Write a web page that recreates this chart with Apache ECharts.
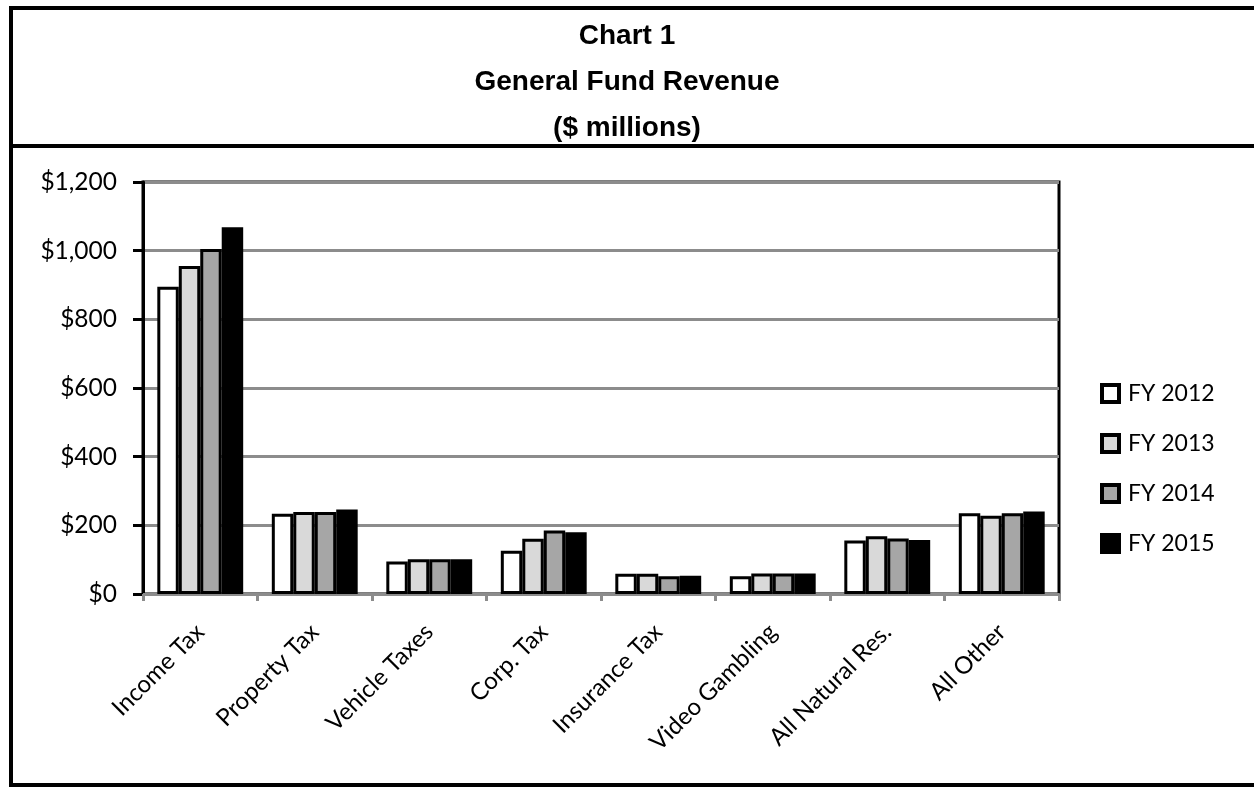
<!DOCTYPE html>
<html>
<head>
<meta charset="utf-8">
<script src="https://cdn.jsdelivr.net/npm/echarts@6/dist/echarts.min.js"></script>
<style>html,body{margin:0;padding:0;background:#fff;}#chart{width:1254px;height:787px;}</style>
</head>
<body>
<div id="chart"></div>
<script>
const categories = ['Income Tax','Property Tax','Vehicle Taxes','Corp. Tax','Insurance Tax','Video Gambling','All Natural Res.','All Other'];
const fy2012 = [895, 234, 95, 126, 59, 52, 156, 235];
const fy2013 = [955, 239, 101, 161, 59, 60, 168, 228];
const fy2014 = [1005, 239, 101, 185, 52, 60, 162, 235];
const fy2015 = [1068, 246, 101, 180, 53, 60, 157, 240];
const seriesNames = ['FY 2012','FY 2013','FY 2014','FY 2015'];
const seriesColors = ['#ffffff','#d9d9d9','#a6a6a6','#000000'];
const titleLines = ['Chart 1','General Fund Revenue','($ millions)'];

const chart = echarts.init(document.getElementById('chart'));
const data = [fy2012, fy2013, fy2014, fy2015];
const labelFont = 'Lato, "Open Sans", sans-serif';

const legendRich = {g: {width: 11, height: 13}};
seriesColors.forEach((c, i) => {
  legendRich['b' + i] = {width: 13, height: 13, backgroundColor: c, borderColor: '#000', borderWidth: 4, verticalAlign: 'middle'};
});

chart.setOption({
  animation: false,
  backgroundColor: '#fff',
  title: {
    text: titleLines.join('\n'),
    left: 'center',
    top: 8,
    textStyle: {fontFamily: '"Liberation Sans", Arial, sans-serif', fontWeight: 'bold', fontSize: 28, lineHeight: 46, color: '#000'}
  },
  legend: {
    orient: 'vertical',
    left: 1094,
    top: 377,
    itemWidth: 0,
    itemHeight: 13,
    itemGap: 27,
    formatter: name => '{b' + seriesNames.indexOf(name) + '|}{g|}' + name,
    textStyle: {fontFamily: labelFont, fontSize: 23, color: '#000', rich: legendRich},
    data: seriesNames.map(n => ({name: n, itemStyle: {opacity: 0, borderWidth: 0}}))
  },
  grid: {
    left: 143, right: 195, top: 182, bottom: 193,
    show: true, borderColor: '#000', borderWidth: 3, backgroundColor: 'transparent'
  },
  xAxis: {
    type: 'category',
    data: categories,
    axisLine: {lineStyle: {color: '#8c8c8c', width: 3}},
    axisTick: {show: true, length: 7, lineStyle: {color: '#8c8c8c', width: 3}},
    axisLabel: {rotate: 45, fontFamily: labelFont, fontSize: 24, color: '#000', margin: 34, interval: 0}
  },
  yAxis: {
    type: 'value',
    min: 0, max: 1200, interval: 200,
    axisLine: {show: true, lineStyle: {color: '#000', width: 3}},
    axisTick: {show: true, length: 10, lineStyle: {color: '#000', width: 3}},
    axisLabel: {fontFamily: labelFont, fontSize: 24.5, color: '#000', margin: 26,
      formatter: v => '$' + v.toLocaleString('en-US')},
    splitLine: {lineStyle: {color: '#8c8c8c', width: 3}}
  },
  series: seriesNames.map((n, i) => ({
    name: n,
    type: 'bar',
    data: data[i],
    barGap: '0%',
    barCategoryGap: '25%',
    itemStyle: {color: seriesColors[i], borderColor: '#000', borderWidth: 3}
  })),
  graphic: [
    {type: 'line', shape: {x1: 11, y1: 8, x2: 1254, y2: 8}, style: {stroke: '#000', lineWidth: 4}, z: 100},
    {type: 'line', shape: {x1: 11, y1: 6, x2: 11, y2: 787}, style: {stroke: '#000', lineWidth: 4}, z: 100},
    {type: 'line', shape: {x1: 11, y1: 785, x2: 1254, y2: 785}, style: {stroke: '#000', lineWidth: 4}, z: 100},
    {type: 'line', shape: {x1: 11, y1: 146, x2: 1254, y2: 146}, style: {stroke: '#000', lineWidth: 4}, z: 100}
  ]
});
</script>
</body>
</html>
